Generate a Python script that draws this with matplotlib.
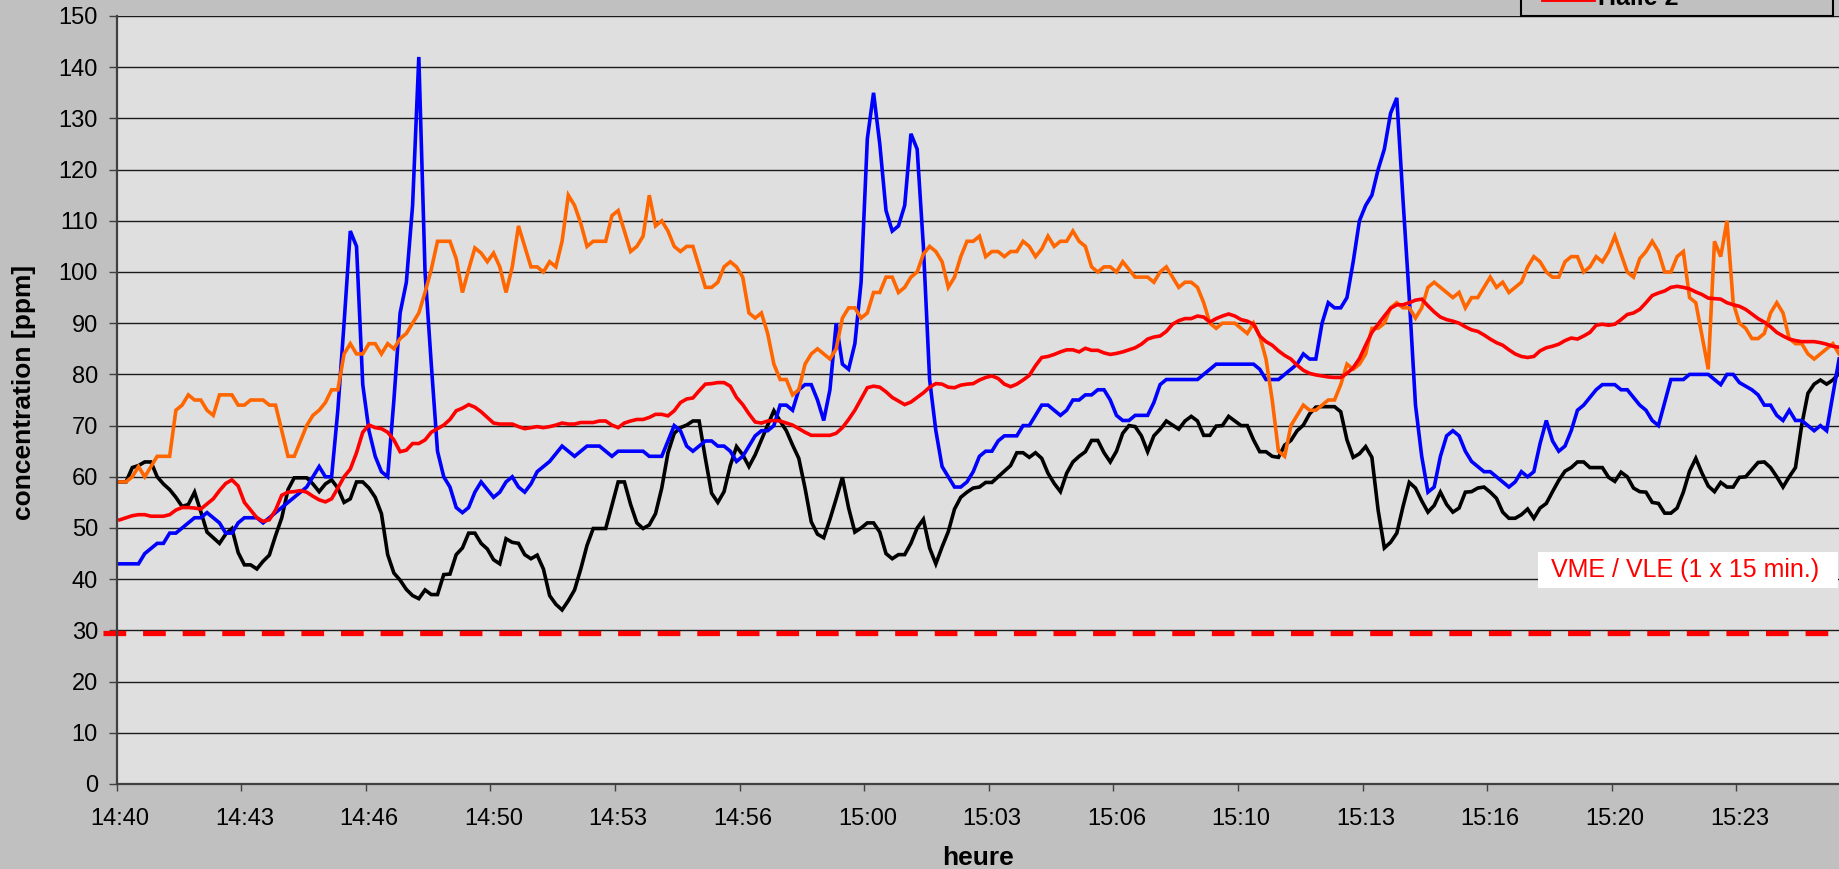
import datetime as dt
import numpy as np
import matplotlib
matplotlib.use("Agg")
import matplotlib.pyplot as plt
from matplotlib.patches import Rectangle
from matplotlib.lines import Line2D

plt.rcParams['font.family'] = ['Liberation Sans', 'DejaVu Sans']

# one reading every 10 s, starting 14:40:00
START = dt.datetime(2000, 1, 1, 14, 40, 0)
STEP_S = 10
LABEL_EVERY = 20

blue = [43, 43, 43, 43, 45, 46, 47, 47, 49, 49, 50, 51, 52, 52, 53, 52, 51, 49, 49, 51,
        52, 52, 52, 51, 52, 53, 54, 55, 56, 57, 58, 60, 62, 60, 60, 73, 90, 108, 105, 78,
        69, 64, 61, 60, 75, 92, 98,
        113, 142, 100, 82, 65, 60, 58, 54, 53, 54, 57, 59, 57.5, 56, 57, 59, 60, 58, 57, 58.6,
        61, 62, 63, 64.5, 66, 65, 64, 65, 66, 66, 66, 65, 64, 65, 65, 65, 65, 65, 64, 64,
        64, 67, 70, 69, 66, 65, 66,
        67, 67, 66, 66, 65, 63, 64, 66, 68, 69, 69, 70, 74, 74, 73, 77, 78, 78, 75, 71,
        77, 90, 82, 81, 86, 98, 126, 135, 125, 112, 108, 109, 113, 127, 124, 105, 79, 69, 62, 60,
        58, 58, 59, 61, 64, 65,
        65, 67, 68, 68, 68, 70, 70, 72, 74, 74, 73, 72, 73, 75, 75, 76, 76, 77, 77, 75,
        72, 71, 71, 72, 72, 72, 74.5, 78, 79, 79, 79, 79, 79, 79, 80, 81, 82, 82, 82, 82,
        82, 82, 82, 81, 79, 79, 79,
        80, 81, 82, 84, 83, 83, 90, 94, 93, 93, 95, 102, 110, 113, 115, 120, 124, 131, 134, 114,
        95, 74, 64, 57, 58, 64, 68, 69, 68, 65, 63, 62, 61, 61, 60, 59, 58, 59, 61, 60,
        61, 66.5, 71, 67, 65, 66,
        69, 73, 74, 75.5, 77, 78, 78, 78, 77, 77, 75.5, 74, 73, 71, 70, 74.5, 79, 79, 79, 80,
        80, 80, 80, 79, 78, 80, 80, 78.4, 77.7, 77, 76, 74, 74, 72, 71, 73, 71, 71, 70, 69,
        70, 69, 76, 83]

orange = [59, 59, 60, 62, 60, 62, 64, 64, 64, 73, 74, 76, 75, 75, 73, 72, 76, 76, 76, 74,
          74, 75, 75, 75, 74, 74, 69, 64, 64, 67, 70, 72, 73, 74.5, 77, 77, 84, 86, 84, 84,
          86, 86, 84, 86, 85, 87, 88,
          90, 92, 96, 100.5, 106, 106, 106, 102.6, 96, 100.5, 104.7, 103.7, 102, 103.7, 101, 96, 101, 109, 105, 101,
          101, 100, 102, 101, 106, 115, 113, 109.5, 105, 106, 106, 106, 111, 112, 108, 104, 105, 107, 115, 109,
          110, 108, 105, 104, 105, 105, 101,
          97, 97, 98, 101, 102, 101, 99, 92, 91, 92, 88, 82, 79, 79, 76, 77, 82, 84, 85, 84,
          83, 85, 91, 93, 93, 91, 92, 96, 96, 99, 99, 96, 97, 99, 100, 103.5, 105, 104, 102, 97,
          99, 103, 106, 106, 107, 103,
          104, 104, 103, 104, 104, 106, 105, 103, 104.5, 107, 105, 106, 106, 108, 106, 105, 101, 100, 101, 101,
          100, 102, 100.5, 99, 99, 99, 98, 100, 101, 99, 97, 98, 98, 97, 94, 90, 89, 90, 90, 90,
          89, 88, 90, 87.5, 83, 75, 65,
          64, 70, 72, 74, 73, 73, 74, 75, 75, 78, 82, 81, 82, 84, 89, 89, 90, 93, 94, 93,
          93, 91, 93, 97, 98, 97, 96, 95, 96, 93, 95, 95, 97, 99, 97, 98, 96, 97, 98, 101,
          103, 102, 100, 99, 99, 102,
          103, 103, 100, 101, 103, 102, 104, 107, 103.5, 100, 99, 102.6, 104, 106, 104, 100, 100, 103, 104, 95,
          94, 87.5, 81, 106, 103, 110, 94, 90, 89, 87, 87, 88, 92, 94, 92, 87, 86, 86, 84, 83,
          84, 85, 86, 84]

red = [51.6, 52, 52.4, 52.6, 52.6, 52.3, 52.3, 52.3, 52.6, 53.5, 54, 54, 53.9, 53.7, 54.7, 55.7, 57.3, 58.7, 59.4, 58.2,
       55, 53.5, 52, 51.3, 51.6, 53.5, 56.4, 57, 57.1, 57.3, 57, 56.2, 55.5, 55.1, 55.7, 57.8, 60, 61.5, 64.7, 68.7,
       70.1, 69.6, 69.4, 68.7, 67.2, 64.9, 65.2,
       66.5, 66.5, 67.2, 68.7, 69.4, 70.1, 71.2, 72.9, 73.4, 74.1, 73.6, 72.7, 71.6, 70.5, 70.3, 70.3, 70.3, 69.8, 69.4, 69.6,
       69.8, 69.6, 69.8, 70.1, 70.5, 70.3, 70.3, 70.6, 70.6, 70.6, 70.9, 70.9, 70.1, 69.6, 70.5, 70.9, 71.2, 71.2, 71.6, 72.2,
       72.2, 71.9, 72.9, 74.5, 75.2, 75.4, 76.8,
       78.1, 78.2, 78.4, 78.4, 77.7, 75.5, 74.1, 72.3, 70.7, 70.5, 70.9, 71, 70.9, 70.5, 70.1, 69.4, 68.7, 68.1, 68.1, 68.1,
       68.1, 68.5, 69.6, 71.2, 73, 75.2, 77.4, 77.7, 77.5, 76.6, 75.5, 74.8, 74.1, 74.6, 75.5, 76.4, 77.5, 78.2, 78.1, 77.5,
       77.4, 77.9, 78.1, 78.2, 78.9, 79.4,
       79.7, 79.2, 78.1, 77.6, 78.1, 78.9, 79.8, 81.7, 83.3, 83.5, 83.9, 84.4, 84.8, 84.8, 84.4, 85.1, 84.7, 84.7, 84.2, 83.9,
       84.1, 84.4, 84.8, 85.2, 85.9, 86.9, 87.3, 87.5, 88.4, 89.8, 90.5, 90.9, 90.9, 91.4, 91.2, 90.2, 90.9, 91.4, 91.8, 91.4,
       90.7, 90.4, 89.8, 87.5, 86.4, 85.7, 84.6,
       83.7, 83, 81.8, 80.8, 80.2, 79.9, 79.7, 79.5, 79.4, 79.4, 80.2, 81.3, 83.1, 85.7, 88.2, 89.8, 91.4, 92.9, 93.6, 93.6,
       94, 94.5, 94.7, 93.4, 92.2, 91.2, 90.7, 90.4, 90, 89.3, 88.7, 88.4, 87.7, 86.9, 86.2, 85.7, 84.8, 84, 83.5, 83.3,
       83.5, 84.6, 85.2, 85.5, 85.9, 86.6,
       87.1, 86.9, 87.5, 88.2, 89.6, 89.8, 89.6, 89.8, 90.7, 91.7, 92, 92.7, 94, 95.4, 95.9, 96.3, 97, 97.2, 97, 96.7,
       96.1, 95.6, 94.9, 94.8, 94.7, 94, 93.6, 93.3, 92.7, 91.8, 90.9, 90.2, 89.3, 88.2, 87.5, 86.9, 86.6, 86.4, 86.4, 86.4,
       86.2, 85.9, 85.5, 85.3]

black = [59, 59, 61.8, 62.2, 62.9, 62.9, 60, 58.6, 57.5, 56, 54.2, 54.6, 57, 53.2, 49.2, 48.1, 47, 48.8, 49.9, 45.2,
         42.8, 42.8, 42, 43.5, 44.7, 48.5, 52, 57.5, 59.8, 59.8, 59.8, 58.6, 57.1, 58.6, 59.4, 57.8, 55, 55.7, 59, 59,
         57.8, 56, 52.8, 44.8, 41.2, 39.8, 38,
         36.8, 36.2, 37.9, 37, 37, 40.9, 41, 44.8, 46.1, 49, 49, 47, 45.9, 43.8, 43, 47.9, 47.2, 47, 44.8, 44,
         44.7, 42, 36.8, 35.1, 34, 35.8, 37.9, 42, 46.6, 49.9, 49.9, 49.9, 54.4, 59, 59, 54.6, 51, 49.9, 50.6, 52.8,
         57.8, 64.7, 68.5, 69.6, 70.1, 70.9, 70.9,
         63.6, 56.8, 55, 57.1, 62.2, 65.9, 64.3, 62, 64.3, 67.2, 70.1, 72.9, 70.9, 69, 66.2, 63.6, 57.8, 51.2, 48.8, 48.1,
         51.7, 55.7, 59.9, 53.9, 49.2, 50, 51, 51, 49.2, 45, 44, 44.8, 44.8, 47, 50, 51.7, 46.1, 43, 46.3, 49.3,
         53.7, 56, 57, 57.8, 58, 58.9,
         58.9, 60, 61.1, 62.2, 64.7, 64.7, 63.8, 64.7, 63.6, 60.7, 58.7, 57.1, 60.7, 62.9, 64, 64.9, 67.1, 67.1, 64.7, 62.9,
         65, 68.5, 70, 69.8, 68, 64.9, 68, 69.3, 70.9, 70.1, 69.3, 70.9, 71.8, 70.9, 68.1, 68.1, 69.9, 70, 71.8, 70.9,
         70, 70, 67.2, 64.9, 64.9, 64, 63.8,
         66.2, 67.1, 69, 70.1, 72.3, 73.6, 73.7, 73.7, 73.7, 72.7, 67.2, 63.8, 64.5, 65.9, 63.8, 53.5, 46.1, 47.2, 49, 54.2,
         58.9, 57.8, 55.3, 53.1, 54.4, 57, 54.6, 53.1, 53.9, 57, 57.1, 57.8, 58, 57, 55.8, 53.1, 51.9, 51.9, 52.6, 53.7,
         51.9, 53.9, 54.8, 57.1, 59.3, 61.1,
         61.8, 62.9, 62.9, 61.8, 61.8, 61.8, 59.9, 59.1, 60.9, 60, 57.8, 57.1, 57, 55, 54.8, 52.9, 52.9, 53.9, 57, 61.1,
         63.6, 60.7, 58.2, 57.1, 58.9, 58, 58, 59.9, 60, 61.4, 62.8, 62.9, 61.8, 60, 58, 60, 61.8, 70.1, 76.3, 78.1,
         78.9, 78.1, 78.9, 80.2]

LIMIT = 29.4
LIMIT_LABEL = "VME / VLE (1 x 15 min.)"
Y_TICKS = list(range(0, 151, 10))

BG = '#C0C0C0'
PLOT_BG = '#DFDFDF'
AXIS_COL = '#404040'

W_PX, H_PX = 1839, 869
fig = plt.figure(figsize=(W_PX / 100, H_PX / 100), dpi=100, facecolor=BG)
ax = fig.add_axes([116.7 / W_PX, 85 / H_PX, 1722.3 / W_PX, 768 / H_PX])
ax.set_facecolor(PLOT_BG)

n = len(blue)
for series, col in [(black, '#000000'), (blue, '#0000FF'),
                    (orange, '#FF6600'), (red, '#FF0000')]:
    ax.plot(np.arange(len(series)), series, color=col, lw=2.6,
            solid_joinstyle='miter', zorder=3)

# category axis: ticks between categories, labels on categories
ax.set_xlim(-0.5, -0.5 + 1722.3 / 6.2292)
ax.set_ylim(0, 150)
times = [START + dt.timedelta(seconds=STEP_S * i) for i in range(n)]
lab_idx = list(range(0, n, LABEL_EVERY))
ax.set_xticks([i - 0.5 for i in lab_idx])
ax.set_xticklabels([])
ax.set_xticks(lab_idx, minor=True)
ax.set_xticklabels([f"{times[i].hour}:{times[i].minute:02d}" for i in lab_idx],
                   minor=True)
ax.tick_params(axis='x', which='major', direction='out', length=5,
               width=1, color=AXIS_COL)
ax.tick_params(axis='x', which='minor', length=0, pad=17, labelsize=17)
ax.set_yticks(Y_TICKS)
ax.tick_params(axis='y', direction='out', length=5.5, width=1,
               color=AXIS_COL, pad=8, labelsize=17)

ax.yaxis.grid(True, color='#1a1a1a', lw=1.0)
ax.set_axisbelow(True)
for side in ('top', 'right'):
    ax.spines[side].set_visible(False)
for side in ('left', 'bottom'):
    ax.spines[side].set_color(AXIS_COL)
    ax.spines[side].set_linewidth(1.6)
    ax.spines[side].set_zorder(4)

ax.set_ylabel("concentration [ppm]", fontsize=19, fontweight='bold')
ax.yaxis.set_label_coords(-0.047, 0.51)
ax.set_xlabel("heure", fontsize=19, fontweight='bold')
ax.xaxis.set_label_coords(0.5, -0.081)

# limit value line (starts a little left of the axis)
ax.axhline(LIMIT, xmin=-13.7 / 1722.3, xmax=1, color='#FF0000', lw=3.8,
           linestyle=(0, (4.3, 3.2)), clip_on=False, zorder=2)

# white label box
yx = ax.get_yaxis_transform()
ax.add_patch(Rectangle((0.8252, 38.3), 0.1742, 7.0, transform=yx,
                       facecolor='white', edgecolor='none', zorder=2.5))
ax.text(0.9106, 41.8, LIMIT_LABEL, transform=yx, ha='center', va='center',
        color='#FF0000', fontsize=18, zorder=5)

# legend box, mostly outside the top of the picture
ft = fig.transFigure
fig.patches.append(Rectangle((1521 / W_PX, (H_PX - 16) / H_PX), 312 / W_PX, 0.08,
                             transform=ft, facecolor=BG, edgecolor='black', lw=1.5))
fig.lines.append(Line2D([1543 / W_PX, 1593 / W_PX], [(H_PX + 1) / H_PX] * 2,
                        transform=ft, color='#FF0000', lw=3.5))
fig.text(1598 / W_PX, (H_PX - 5) / H_PX, "Halle 2", fontsize=18,
         fontweight='bold', va='baseline', ha='left')

fig.savefig("out.png", dpi=100, facecolor=BG)
